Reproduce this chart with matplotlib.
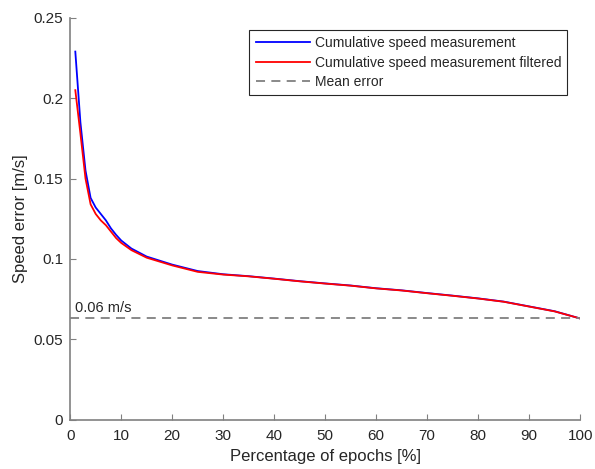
import numpy as np
import matplotlib
matplotlib.use('Agg')
import matplotlib.pyplot as plt

plt.rcParams['font.family'] = ['Liberation Sans', 'DejaVu Sans']

# data
pct = [1, 2, 3, 4, 5, 6, 7, 8, 9, 10, 12, 15, 20, 25, 30, 35, 40, 45, 50,
       55, 60, 65, 70, 75, 80, 85, 90, 95, 100]
speed = [0.229, 0.185, 0.155, 0.138, 0.132, 0.128, 0.124, 0.119, 0.115, 0.1115,
         0.1065, 0.1015, 0.0965, 0.0925, 0.0905, 0.0893, 0.0878, 0.0862, 0.0848,
         0.0835, 0.0818, 0.0805, 0.0788, 0.0772, 0.0755, 0.0735, 0.0705, 0.0675, 0.063]
speed_filt = [0.205, 0.178, 0.150, 0.134, 0.128, 0.124, 0.121, 0.117, 0.113, 0.110,
              0.1055, 0.1008, 0.096, 0.092, 0.0903, 0.0892, 0.0877, 0.0861, 0.0847,
              0.0834, 0.0817, 0.0804, 0.0787, 0.0771, 0.0754, 0.0734, 0.0704, 0.0674, 0.063]
mean_err = 0.063

fig = plt.figure(figsize=(5.95, 4.69), dpi=100)
ax = fig.add_axes([0.118, 0.105, 0.857, 0.857])

ax.plot(pct, speed, color='#0000ff', lw=1.3, label='Cumulative speed measurement')
ax.plot(pct, speed_filt, color='#ff0000', lw=1.3, label='Cumulative speed measurement filtered')
ax.axhline(mean_err, color='#808080', lw=1.3, ls=(0, (5, 3.5)), label='Mean error')
ax.text(1, mean_err + 0.004, '0.06 m/s', fontsize=10.5, color='#262626')

ax.set_xlim(0, 100)
ax.set_ylim(0, 0.25)
ax.set_xticks(np.arange(0, 101, 10))
ax.set_yticks([0, 0.05, 0.1, 0.15, 0.2, 0.25])
ax.set_yticklabels(['0', '0.05', '0.1', '0.15', '0.2', '0.25'])

for s in ['top', 'right']:
    ax.spines[s].set_visible(False)
for s in ['left', 'bottom']:
    ax.spines[s].set_color('#808080')
    ax.spines[s].set_linewidth(1.2)
ax.tick_params(direction='in', length=4, color='#808080', labelcolor='#262626',
               labelsize=11)
ax.tick_params(axis='x', pad=7)
ax.tick_params(axis='y', pad=5)

ax.set_xlabel('Percentage of epochs [%]', fontsize=12, color='#262626', labelpad=4)
ax.set_ylabel('Speed error [m/s]', fontsize=12, color='#262626')

leg = ax.legend(loc='upper right', bbox_to_anchor=(0.975, 0.97), fontsize=10,
                frameon=True, fancybox=False, edgecolor='#262626', framealpha=1,
                borderpad=0.45, labelspacing=0.4, handlelength=3.9, handletextpad=0.35,
                borderaxespad=0)
leg.get_frame().set_linewidth(0.8)
for t in leg.get_texts():
    t.set_color('#262626')

fig.savefig('out.png', dpi=100)
